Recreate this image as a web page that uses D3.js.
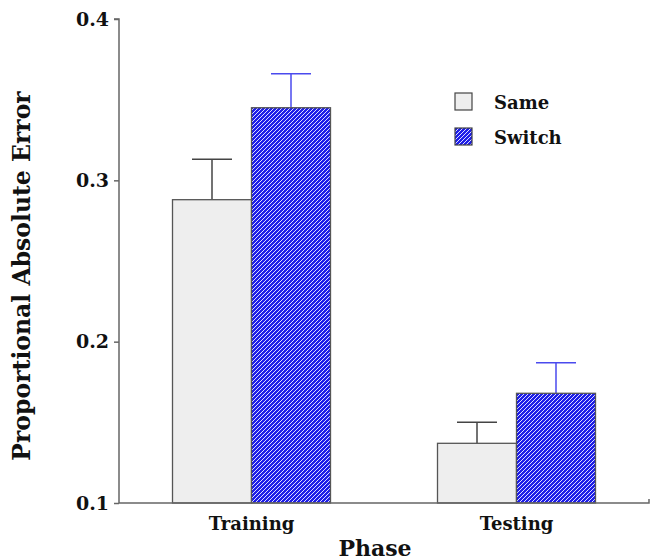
<!DOCTYPE html>
<html>
<head>
<meta charset="utf-8">
<script src="https://cdn.jsdelivr.net/npm/d3@7"></script>
<style>
  body { margin: 0; background: #fff; }
  text { font-family: 'DejaVu Serif', 'Liberation Serif', serif; font-weight: bold; fill: #111; }
</style>
</head>
<body>
<div id="chart"></div>
<script>
const phases = ['Training', 'Testing'];
const conditions = ['Same', 'Switch'];
const sameMeans = [0.288, 0.137];
const sameErrors = [0.025, 0.013];
const switchMeans = [0.345, 0.168];
const switchErrors = [0.021, 0.019];
const yTicks = [0.1, 0.2, 0.3, 0.4];

const totalWidth = 652;
const totalHeight = 560;
const margin = { top: 19, right: 3, bottom: 57, left: 119 };
const width = totalWidth - margin.left - margin.right;
const height = totalHeight - margin.top - margin.bottom;

const data = phases.flatMap((p, i) => [
  { phase: p, cond: 'Same', mean: sameMeans[i], err: sameErrors[i] },
  { phase: p, cond: 'Switch', mean: switchMeans[i], err: switchErrors[i] },
]);

const xScale = d3.scaleBand().domain(phases).range([0, width]).padding(0);
const groupWidth = 158;
const xInner = d3.scaleBand().domain(conditions).range([0, groupWidth]).padding(0);
const yScale = d3.scaleLinear().domain([0.1, 0.4]).range([height, 0]);

const svg = d3.select('#chart').append('svg')
  .attr('width', totalWidth)
  .attr('height', totalHeight);

// hatch pattern for Switch bars
const defs = svg.append('defs');
const pat = defs.append('pattern')
  .attr('id', 'hatch')
  .attr('patternUnits', 'userSpaceOnUse')
  .attr('width', 4)
  .attr('height', 4);
pat.append('rect').attr('width', 4).attr('height', 4).attr('fill', '#1e1ee8');
pat.append('path')
  .attr('d', 'M-1,1 l2,-2 M0,4 l4,-4 M3,5 l2,-2')
  .attr('stroke', '#dadaff')
  .attr('stroke-width', 1);

const fillFor = (c) => (c === 'Same' ? '#eeeeee' : 'url(#hatch)');
const errColor = (c) => (c === 'Same' ? '#444' : '#4a4aee');

const g = svg.append('g').attr('transform', `translate(${margin.left}, ${margin.top})`);

const barX = (d) => xScale(d.phase) + (xScale.bandwidth() - groupWidth) / 2 + xInner(d.cond);
const capHalf = 20;

// Error bars (upper only)
g.selectAll('.err').data(data).join('line')
  .attr('x1', (d) => barX(d) + xInner.bandwidth() / 2)
  .attr('x2', (d) => barX(d) + xInner.bandwidth() / 2)
  .attr('y1', (d) => yScale(d.mean))
  .attr('y2', (d) => yScale(d.mean + d.err))
  .attr('stroke', (d) => errColor(d.cond))
  .attr('stroke-width', 1.5);
g.selectAll('.cap').data(data).join('line')
  .attr('x1', (d) => barX(d) + xInner.bandwidth() / 2 - capHalf)
  .attr('x2', (d) => barX(d) + xInner.bandwidth() / 2 + capHalf)
  .attr('y1', (d) => yScale(d.mean + d.err))
  .attr('y2', (d) => yScale(d.mean + d.err))
  .attr('stroke', (d) => errColor(d.cond))
  .attr('stroke-width', 1.5);

// Bars
g.selectAll('.bar').data(data).join('rect')
  .attr('x', barX)
  .attr('y', (d) => yScale(d.mean))
  .attr('width', xInner.bandwidth())
  .attr('height', (d) => height - yScale(d.mean))
  .attr('fill', (d) => fillFor(d.cond))
  .attr('stroke', '#555')
  .attr('stroke-width', 1.3);

// Y axis
const yAxis = g.append('g')
  .call(d3.axisLeft(yScale).tickValues(yTicks).tickFormat(d3.format('.1f')).tickSize(5).tickPadding(5));
yAxis.select('.domain').attr('stroke', '#666').attr('stroke-width', 1.5).attr('d', `M-5,0H0V${height}`);
yAxis.selectAll('.tick line').attr('stroke', '#666').attr('stroke-width', 1.5);
yAxis.selectAll('text').style('font-size', '19px').attr('fill', '#111');

// X axis
const xAxis = g.append('g')
  .attr('transform', `translate(0, ${height})`)
  .call(d3.axisBottom(xScale).tickSize(0).tickPadding(14));
xAxis.select('.domain').attr('stroke', '#666').attr('stroke-width', 1.5).attr('d', `M0,0H${width}V-4`);
xAxis.selectAll('text').style('font-size', '18px').attr('fill', '#111');

// Axis labels
svg.append('text')
  .attr('transform', `translate(30, ${margin.top + height / 2 + 15}) rotate(-90)`)
  .attr('text-anchor', 'middle')
  .style('font-size', '23.5px')
  .text('Proportional Absolute Error');

svg.append('text')
  .attr('x', 375)
  .attr('y', 556)
  .attr('text-anchor', 'middle')
  .style('font-size', '22px')
  .text('Phase');

// Legend
const legend = svg.append('g').attr('transform', 'translate(455, 93)');
conditions.forEach((c, i) => {
  const row = legend.append('g').attr('transform', `translate(0, ${i * 35})`);
  row.append('rect')
    .attr('width', 17).attr('height', 17)
    .attr('fill', fillFor(c))
    .attr('stroke', '#444').attr('stroke-width', 1.2);
  row.append('text')
    .attr('x', 39).attr('y', 16)
    .style('font-size', '18px')
    .text(c);
});
</script>
</body>
</html>
